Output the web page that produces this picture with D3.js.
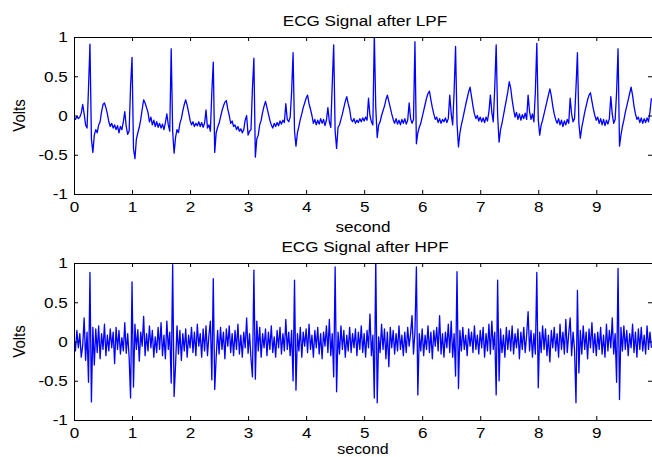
<!DOCTYPE html>
<html>
<head>
<meta charset="utf-8">
<script src="https://cdn.jsdelivr.net/npm/d3@7"></script>
<style>
  html, body { margin: 0; padding: 0; background: #fff; }
  svg { display: block; }
</style>
</head>
<body>
<svg id="chart" width="652" height="457"></svg>
<script>
// Sample spacing of the recorded signals, in seconds
const sampleStep = 0.025;
const xMax = 9.96;

const xTicks = [0, 1, 2, 3, 4, 5, 6, 7, 8, 9];
const xTickLabels = ["0", "1", "2", "3", "4", "5", "6", "7", "8", "9"];
const yTicks = [-1, -0.5, 0, 0.5, 1];
const yTickLabels = ["-1", "-0.5", "0", "0.5", "1"];

const titles = ["ECG Signal after LPF", "ECG Signal after HPF"];
const xLabel = "second";
const yLabel = "Volts";

// ECG after the low-pass filter (volts)
const lpfVolts = [
  -0.02,-0.05,-0.01,-0.04,-0.02,0.03,0.14,0.02,-0.12,-0.16,
  0.35,0.91,-0.30,-0.47,-0.25,-0.18,-0.22,-0.12,-0.08,0.05,
  0.14,0.16,0.10,0.02,-0.08,-0.14,-0.10,-0.16,-0.12,-0.18,
  -0.13,-0.22,-0.14,-0.18,-0.08,0.05,-0.14,-0.24,-0.20,0.38,
  0.74,-0.42,-0.55,-0.30,-0.22,-0.15,-0.05,0.08,0.20,0.16,
  0.10,0.04,-0.08,-0.02,-0.12,-0.06,-0.14,-0.08,-0.15,-0.10,
  -0.16,-0.11,-0.18,-0.09,0.02,-0.12,-0.20,0.85,-0.20,-0.48,
  -0.28,-0.18,-0.22,-0.10,-0.04,0.06,0.14,0.20,0.13,0.04,
  -0.06,-0.12,-0.08,-0.14,-0.10,-0.13,-0.08,-0.14,-0.09,-0.15,
  -0.10,0.07,-0.16,-0.12,-0.20,0.30,0.68,-0.47,-0.22,-0.15,
  -0.10,-0.02,0.06,0.12,0.17,0.19,0.08,0.00,-0.10,-0.07,
  -0.14,-0.12,-0.18,-0.14,-0.20,-0.17,-0.22,-0.18,-0.06,0.00,
  -0.25,-0.20,-0.18,0.35,0.73,-0.53,-0.30,-0.25,-0.12,-0.06,
  0.04,0.12,0.18,0.10,0.02,-0.06,-0.12,-0.16,-0.10,-0.14,
  -0.09,-0.13,-0.07,-0.11,-0.06,-0.09,0.15,-0.05,-0.08,-0.02,
  0.30,0.80,-0.20,-0.39,-0.22,-0.14,-0.05,0.02,0.10,0.16,
  0.22,0.26,0.15,0.08,0.00,-0.10,-0.05,-0.12,-0.06,-0.11,
  -0.04,-0.10,-0.05,-0.13,-0.06,0.10,-0.08,-0.15,0.40,0.90,
  -0.20,-0.42,-0.15,-0.12,-0.05,0.02,0.10,0.18,0.24,0.15,
  0.08,-0.05,-0.08,-0.04,-0.10,-0.06,-0.09,-0.04,-0.08,-0.03,
  -0.07,-0.02,-0.06,0.22,0.00,-0.08,-0.12,1.04,0.10,-0.28,
  -0.12,-0.08,0.00,0.06,0.12,0.20,0.26,0.18,0.10,0.02,
  -0.05,-0.10,-0.04,-0.11,-0.06,-0.12,-0.05,-0.10,-0.04,-0.11,
  -0.06,0.16,-0.04,-0.10,-0.05,0.94,-0.36,-0.22,-0.15,-0.10,
  -0.02,0.06,0.14,0.22,0.28,0.31,0.20,0.10,0.02,-0.05,
  -0.02,-0.09,-0.04,-0.10,-0.05,-0.08,-0.03,-0.09,-0.04,0.26,
  0.02,-0.12,0.30,0.88,-0.10,-0.40,-0.22,-0.12,-0.04,0.05,
  0.14,0.22,0.30,0.36,0.24,0.12,0.02,-0.04,0.00,-0.07,
  -0.02,-0.08,-0.03,-0.09,-0.02,-0.07,0.05,0.26,0.04,-0.08,
  0.35,0.90,0.00,-0.34,-0.18,-0.10,0.00,0.10,0.20,0.30,
  0.43,0.35,0.20,0.08,-0.02,0.04,-0.05,0.02,-0.06,0.01,
  -0.04,0.03,-0.05,0.26,0.05,-0.05,0.02,-0.08,0.30,0.92,
  -0.05,-0.25,-0.12,-0.06,0.02,0.10,0.18,0.26,0.34,0.25,
  0.12,0.02,-0.05,-0.10,-0.04,-0.12,-0.06,-0.14,-0.07,-0.12,
  -0.05,-0.10,0.22,0.02,-0.08,-0.04,0.35,0.80,-0.10,-0.29,
  -0.15,-0.06,0.04,0.12,0.20,0.26,0.29,0.18,0.08,0.00,
  -0.06,-0.02,-0.10,-0.04,-0.12,-0.05,-0.13,-0.06,-0.11,-0.04,
  0.24,0.02,-0.10,-0.05,0.30,0.85,-0.39,-0.25,-0.14,-0.06,
  0.04,0.12,0.20,0.28,0.36,0.26,0.12,0.02,-0.05,-0.02,
  -0.09,-0.03,-0.10,-0.04,-0.09,-0.03,-0.08,0.05,0.22
];

// ECG after the high-pass filter (volts)
const hpfVolts = [
  0.05,-0.12,0.14,-0.08,0.10,-0.20,-0.05,0.30,-0.24,0.12,
  -0.52,0.88,-0.77,0.18,-0.30,0.16,-0.14,0.20,-0.22,0.10,
  -0.10,0.22,-0.18,0.08,-0.12,0.16,-0.08,0.12,-0.28,0.18,
  -0.10,0.14,-0.16,0.05,-0.12,0.24,-0.15,0.10,-0.20,-0.72,
  0.76,-0.58,0.22,-0.10,0.15,-0.25,0.12,-0.06,0.32,-0.18,
  0.10,-0.12,0.20,-0.08,0.14,-0.20,0.06,-0.14,0.18,-0.10,
  0.24,-0.18,0.08,-0.22,0.26,-0.10,0.12,-0.53,0.98,-0.70,
  -0.30,0.20,-0.16,0.14,-0.24,0.10,-0.12,0.16,-0.20,0.08,
  -0.08,0.18,-0.14,0.12,-0.18,0.22,-0.06,0.10,-0.20,0.16,
  -0.12,0.20,-0.18,0.08,0.26,-0.49,0.80,-0.61,-0.20,0.14,
  -0.16,0.18,-0.10,0.12,-0.22,0.16,-0.06,0.20,-0.14,0.10,
  -0.18,0.14,-0.10,0.22,-0.16,0.08,-0.20,0.12,-0.08,0.30,
  -0.15,0.10,-0.22,-0.45,0.91,-0.48,0.26,-0.12,0.18,-0.20,
  0.10,-0.08,0.16,-0.18,0.12,-0.10,0.20,-0.14,0.06,-0.20,
  0.14,-0.08,0.18,-0.16,0.10,-0.12,0.28,-0.10,0.12,-0.18,
  0.14,-0.50,0.78,-0.62,0.10,-0.12,0.18,-0.20,0.12,-0.06,
  0.16,-0.14,0.22,-0.10,0.08,-0.20,0.14,-0.08,0.18,-0.16,
  0.10,-0.22,0.12,-0.06,0.20,-0.14,0.28,-0.18,0.10,-0.45,
  0.95,-0.64,0.12,-0.16,0.20,-0.10,0.14,-0.20,0.08,-0.12,
  0.18,-0.14,0.10,-0.08,0.16,-0.18,0.12,-0.10,0.20,-0.14,
  0.10,-0.20,0.14,-0.08,0.35,-0.18,0.08,-0.72,1.05,-0.78,
  0.06,-0.14,0.22,-0.10,0.16,-0.22,0.12,-0.32,0.18,-0.08,
  0.14,-0.16,0.10,-0.12,0.20,-0.10,0.08,-0.18,0.12,-0.14,
  0.18,-0.06,0.10,0.33,-0.16,0.12,0.95,-0.68,0.10,-0.12,
  0.16,-0.18,0.08,-0.10,0.20,-0.14,0.12,-0.22,0.14,-0.06,
  0.18,-0.12,0.33,-0.16,0.10,-0.20,0.12,-0.08,0.22,-0.14,
  0.26,-0.20,0.10,-0.44,0.89,-0.60,0.14,-0.12,0.18,-0.10,
  0.08,-0.18,0.16,-0.06,0.12,-0.14,0.20,-0.10,0.08,-0.16,
  0.14,-0.08,0.18,-0.20,0.10,-0.12,0.22,-0.16,0.26,-0.10,
  0.12,-0.68,0.78,-0.50,0.16,-0.14,0.08,-0.20,0.18,-0.10,
  0.14,-0.12,0.20,-0.16,0.10,-0.08,0.16,-0.22,0.12,-0.10,
  0.18,-0.14,0.08,0.38,-0.12,0.14,-0.20,0.10,-0.16,0.88,
  -0.59,0.12,-0.14,0.20,-0.10,0.16,-0.18,0.08,-0.26,0.14,
  -0.08,0.18,-0.12,0.10,-0.20,0.22,-0.10,0.12,-0.16,0.28,
  -0.14,0.10,0.30,-0.18,0.12,-0.10,-0.78,0.65,-0.40,0.14,
  -0.16,0.20,-0.10,0.12,-0.22,0.16,-0.08,0.24,-0.14,0.10,
  -0.18,0.12,-0.10,0.18,-0.16,0.08,-0.20,0.22,-0.12,0.14,
  -0.08,0.30,-0.16,0.10,-0.52,0.93,-0.74,0.18,-0.12,0.20,
  -0.10,0.14,-0.18,0.10,-0.08,0.22,-0.14,0.12,-0.20,0.16,
  -0.10,0.18,-0.12,0.08,-0.16,0.20,-0.10,0.12,-0.08
];

const signals = [lpfVolts, hpfVolts];

// Layout of the two stacked axes boxes
const plotLeft = 74, plotRight = 652;
const panels = [
  { top: 37, bottom: 194, xLabelY: 232, xLabelSize: 15 },
  { top: 263, bottom: 420, xLabelY: 454, xLabelSize: 14 }
];
const fontFamily = "'Liberation Sans', Arial, Helvetica, sans-serif";
const fontSize = 15;
const textStretch = 1.14;

const svg = d3.select("#chart");

const x = d3.scaleLinear().domain([0, xMax]).range([plotLeft, plotRight]);

function addText(parent, str, px, py, anchor, rotated, size) {
  return parent.append("text")
    .attr("transform", `translate(${px},${py}) scale(${textStretch},1)` + (rotated ? " rotate(-90)" : ""))
    .attr("text-anchor", anchor)
    .attr("font-family", fontFamily)
    .attr("font-size", size || fontSize)
    .attr("fill", "#000")
    .text(str);
}

panels.forEach((p, i) => {
  const y = d3.scaleLinear().domain([-1, 1]).range([p.bottom, p.top]);
  const g = svg.append("g");

  const clipId = "clip" + i;
  g.append("clipPath").attr("id", clipId)
    .append("rect")
    .attr("x", plotLeft + 0.5).attr("y", p.top + 0.5)
    .attr("width", plotRight - plotLeft).attr("height", p.bottom - p.top);

  const line = d3.line()
    .x((d, k) => x(k * sampleStep))
    .y(d => y(d));

  g.append("path")
    .datum(signals[i])
    .attr("clip-path", `url(#${clipId})`)
    .attr("fill", "none")
    .attr("stroke", "#0000ff")
    .attr("stroke-width", 1.3)
    .attr("stroke-linejoin", "round")
    .attr("d", line);

  // Box axes with inward ticks on all four sides
  const styleAxis = sel => {
    sel.select(".domain").attr("stroke", "#000");
    sel.selectAll(".tick line").attr("stroke", "#000");
    sel.selectAll("text")
      .attr("font-family", fontFamily)
      .attr("font-size", fontSize)
      .attr("fill", "#000")
      .attr("transform", `scale(${textStretch},1)`);
  };

  g.append("g")
    .attr("transform", `translate(0,${p.bottom})`)
    .call(d3.axisBottom(x).tickValues(xTicks)
      .tickFormat((d, k) => xTickLabels[k])
      .tickSizeInner(-4).tickSizeOuter(0).tickPadding(7))
    .call(styleAxis);

  g.append("g")
    .attr("transform", `translate(0,${p.top})`)
    .call(d3.axisTop(x).tickValues(xTicks).tickFormat("")
      .tickSizeInner(-4).tickSizeOuter(0))
    .call(styleAxis);

  g.append("g")
    .attr("transform", `translate(${plotLeft},0)`)
    .call(d3.axisLeft(y).tickValues(yTicks)
      .tickFormat((d, k) => yTickLabels[k])
      .tickSizeInner(-4).tickSizeOuter(0).tickPadding(5.4))
    .call(styleAxis);

  g.append("g")
    .attr("transform", `translate(${plotRight},0)`)
    .call(d3.axisRight(y).tickValues(yTicks).tickFormat("")
      .tickSizeInner(-4).tickSizeOuter(0))
    .call(styleAxis);

  const cx = (x(0) + plotRight) / 2 + 2;
  addText(g, titles[i], cx, p.top - 11, "middle", false);
  addText(g, xLabel, cx - 2, p.xLabelY, "middle", false, p.xLabelSize);
  addText(g, yLabel, 25, (p.top + p.bottom) / 2, "middle", true);
});
</script>
</body>
</html>
